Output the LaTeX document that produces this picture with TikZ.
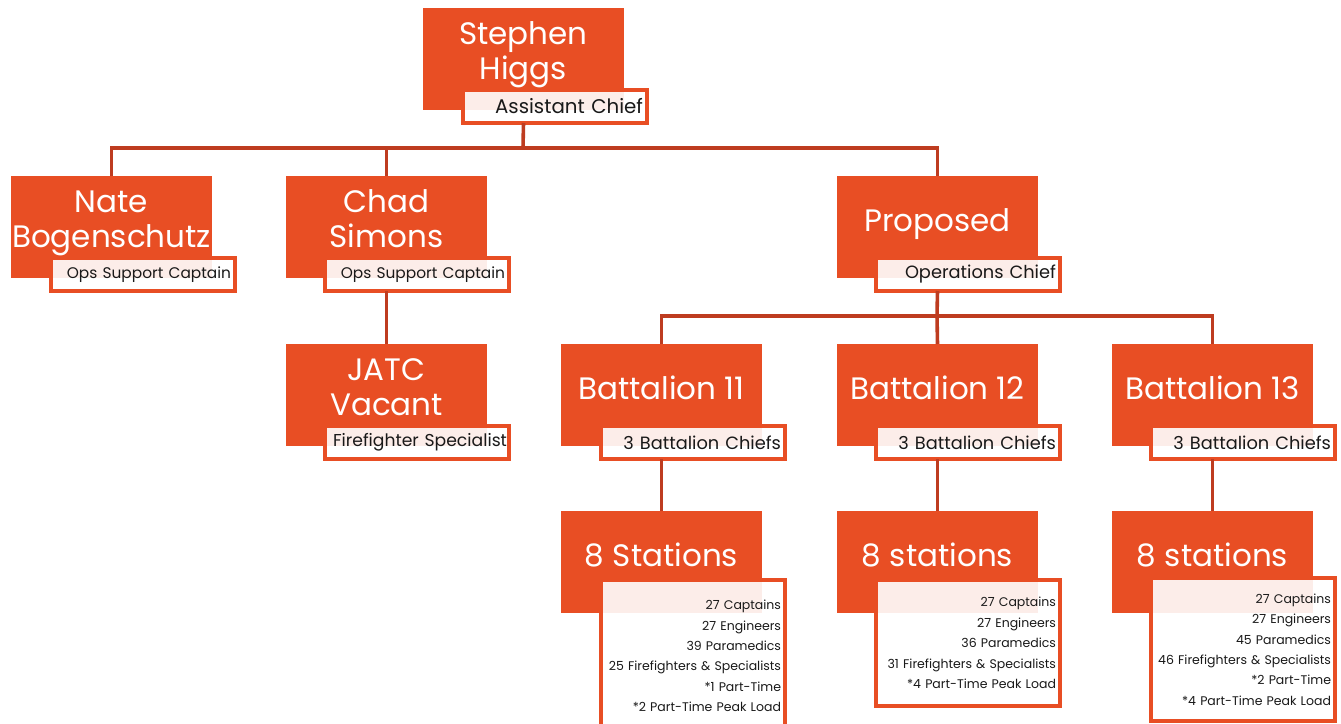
\documentclass[tikz,border=0pt]{standalone}
\usepackage{fontspec}
\setmainfont{Poppins}
\definecolor{orng}{RGB}{232,78,36}
\definecolor{conn}{RGB}{190,60,32}
\definecolor{ink}{RGB}{25,25,25}
\tikzset{
  obox/.style={fill=orng, draw=none, minimum width=201pt, minimum height=102pt, inner sep=0pt, outer sep=0pt, anchor=north west},
  ttl/.style={text=white, align=center, inner sep=0pt, font=\fontsize{31}{35}\selectfont,
    execute at begin node=\strut, execute at end node=\strut},
  sbox/.style={draw=orng, line width=3.3pt, fill=white, fill opacity=0.9, text opacity=1, text=ink,
    minimum width=184pt, minimum height=33pt, text width=176pt, align=right, inner xsep=4pt, inner ysep=0pt,
    outer sep=0pt, anchor=north west, font=\fontsize{17.8}{20}\selectfont},
  dbox/.style={sbox, font=\fontsize{12.5}{20.4}\selectfont},
  link/.style={draw=conn, line width=3.6pt},
}
\begin{document}
\begin{tikzpicture}[x=1pt,y=-1pt]
\clip (0,0) rectangle (1341,723);
\fill[white] (0,0) rectangle (1341,723);
% connectors
\coordinate (bus1) at (523,148);
\coordinate (bus2) at (937,316);
% level 0
\node[obox] (sh) at (423,8) {};
\node[ttl] (sh-t) at ([yshift=3pt]sh.center) {Stephen\\Higgs};
% level 1
\node[obox] (nate) at (11,176) {};
\node[ttl] (nate-t) at ([yshift=3pt]nate.center) {Nate\\Bogenschutz};
\node[obox] (chad) at (286,176) {};
\node[ttl] (chad-t) at ([yshift=3pt]chad.center) {Chad\\Simons};
\node[obox] (prop) at (837,176) {};
\node[ttl] (prop-t) at ([yshift=3pt]prop.center) {Proposed};
% level 2
\node[obox] (jatc) at (286,344) {};
\node[ttl] (jatc-t) at ([yshift=3pt]jatc.center) {JATC\\Vacant};
\node[obox] (b11) at (561,344) {};
\node[ttl] (b11-t) at ([yshift=3pt]b11.center) {Battalion 11};
\node[obox] (b12) at (837,344) {};
\node[ttl] (b12-t) at ([yshift=3pt]b12.center) {Battalion 12};
\node[obox] (b13) at (1112,344) {};
\node[ttl] (b13-t) at ([yshift=3pt]b13.center) {Battalion 13};
% level 3
\node[obox] (s11) at (561,511) {};
\node[ttl] (s11-t) at ([yshift=3pt]s11.center) {8 Stations};
\node[obox] (s12) at (837,511) {};
\node[ttl] (s12-t) at ([yshift=3pt]s12.center) {8 stations};
\node[obox] (s13) at (1112,511) {};
\node[ttl] (s13-t) at ([yshift=3pt]s13.center) {8 stations};
% sub boxes
\node[sbox, font=\fontsize{19.8}{22}\selectfont] (sh-s) at (463,90) {Assistant Chief};
\node[sbox, font=\fontsize{15.4}{18}\selectfont] (nate-s) at (51,258) {Ops Support Captain};
\node[sbox, font=\fontsize{15.4}{18}\selectfont] (chad-s) at (325,258) {Ops Support Captain};
\node[sbox] (prop-s) at (876,258) {Operations Chief};
\node[sbox, font=\fontsize{17.2}{20}\selectfont, text width=180pt, inner xsep=2pt] (jatc-s) at (325,426) {Firefighter Specialist};
\node[sbox] (b11-s) at (601,426) {3 Battalion Chiefs};
\node[sbox] (b12-s) at (876,426) {3 Battalion Chiefs};
\node[sbox] (b13-s) at (1151,426) {3 Battalion Chiefs};
\node[dbox, minimum height=152pt] (s11-s) at (601,580) {27 Captains\\27 Engineers\\39 Paramedics\\25 Firefighters \& Specialists\\{}*1 Part-Time\\{}*2 Part-Time Peak Load};
\node[dbox, minimum height=126pt] (s12-s) at (876,580) {27 Captains\\27 Engineers\\36 Paramedics\\31 Firefighters \& Specialists\\{}*4 Part-Time Peak Load};
\node[dbox, minimum height=143pt] (s13-s) at (1151,578) {27 Captains\\27 Engineers\\45 Paramedics\\46 Firefighters \& Specialists\\{}*2 Part-Time\\{}*4 Part-Time Peak Load};
% links
\draw[link] (sh.center |- sh-s.south) -- (bus1);
\draw[link] (nate.north) -- (nate.north |- bus1) -- (prop.north |- bus1) -- (prop.north);
\draw[link] (chad.north |- bus1) -- (chad.north);
\draw[link] (chad.center |- chad-s.south) -- (jatc.north);
\draw[link] (prop.center |- prop-s.south) -- (bus2);
\draw[link] (b11.north) -- (b11.north |- bus2) -- (b13.north |- bus2) -- (b13.north);
\draw[link] (bus2) -- (b12.north);
\draw[link] (b11.center |- b11-s.south) -- (s11.north);
\draw[link] (b12.center |- b12-s.south) -- (s12.north);
\draw[link] (b13.center |- b13-s.south) -- (s13.north);
\end{tikzpicture}
\end{document}
